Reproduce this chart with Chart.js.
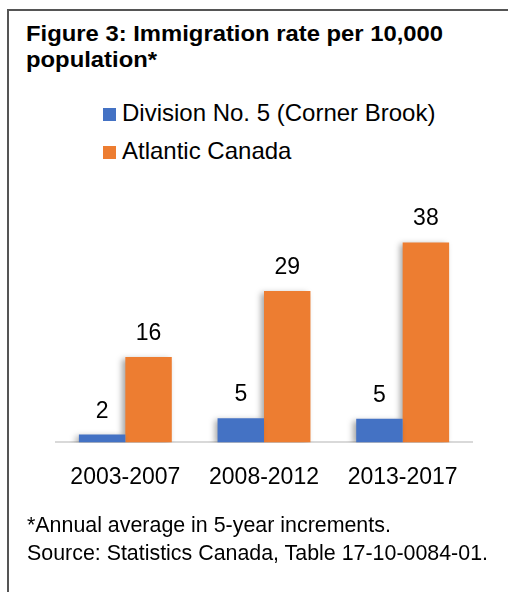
<!DOCTYPE html>
<html>
<head>
<meta charset="utf-8">
<script src="https://cdn.jsdelivr.net/npm/chart.js@4"></script>
<style>
  html, body { margin: 0; padding: 0; background: #fff; overflow: hidden; }
  body { width: 508px; height: 592px; position: relative; font-family: "Liberation Sans", Arial, sans-serif; color: #000; }
  #frame { position: absolute; left: 7px; top: 9px; width: 620px; height: 700px; border: 2px solid #555; }
  #title { position: absolute; left: 26px; top: 21px; font-size: 22px; font-weight: bold; line-height: 26px; transform: scaleX(1.083); transform-origin: left top; white-space: nowrap; }
  .legend-item { position: absolute; left: 103px; font-size: 24px; line-height: 30px; white-space: nowrap; }
  .legend-item span { display: inline-block; width: 13px; height: 13px; margin-right: 6px; }
  #note { position: absolute; left: 27px; top: 512px; font-size: 21.4px; line-height: 27.5px; white-space: nowrap; }
  #wrap { position: absolute; left: 0; top: 0; width: 508px; height: 592px; }
</style>
</head>
<body>
<div id="frame"></div>
<div id="title">Figure 3: Immigration rate per 10,000<br>population*</div>
<div id="legend"></div>
<div id="wrap"><canvas id="chart"></canvas></div>
<div id="note">*Annual average in 5-year increments.<br>Source: Statistics Canada, Table 17-10-0084-01.</div>
<script>
const categories = ["2003-2007", "2008-2012", "2013-2017"];
const cornerBrook = [1.5, 4.6, 4.5];
const atlantic = [16.3, 28.9, 38.2];

const barLabels = {
  id: "barLabels",
  afterDatasetsDraw(chart) {
    const ctx = chart.ctx;
    ctx.save();
    ctx.font = '23px "Liberation Sans", Arial';
    ctx.fillStyle = "#000";
    ctx.textAlign = "center";
    ctx.textBaseline = "alphabetic";
    chart.data.datasets.forEach((ds, i) => {
      chart.getDatasetMeta(i).data.forEach((bar, j) => {
        ctx.fillText(Math.round(ds.data[j]), bar.x, bar.y - 17);
      });
    });
    ctx.restore();
  }
};

const barShadow = {
  id: "barShadow",
  beforeDatasetDraw(chart) {
    const ctx = chart.ctx;
    ctx.save();
    ctx.shadowColor = "rgba(0,0,0,0.35)";
    ctx.shadowBlur = 6;
    ctx.shadowOffsetX = -3;
    ctx.shadowOffsetY = 2;
  },
  afterDatasetDraw(chart) {
    chart.ctx.restore();
  }
};

const chart = new Chart(document.getElementById("chart").getContext("2d"), {
  type: "bar",
  data: {
    labels: categories,
    datasets: [
      { label: "Division No. 5 (Corner Brook)", data: cornerBrook, backgroundColor: "#4472C4" },
      { label: "Atlantic Canada", data: atlantic, backgroundColor: "#ED7D31" }
    ]
  },
  options: {
    responsive: true,
    maintainAspectRatio: false,
    animation: false,
    layout: { padding: { left: 56, right: 36, top: 233, bottom: 80 } },
    categoryPercentage: 0.67,
    barPercentage: 1,
    plugins: { legend: { display: false }, tooltip: { enabled: false } },
    scales: {
      x: {
        grid: { display: false, drawTicks: false },
        border: { display: true, color: "#d9d9d9", width: 2 },
        ticks: { color: "#000", padding: 21, font: { family: '"Liberation Sans", Arial', size: 23 } }
      },
      y: { display: false, min: 0, max: 40 }
    }
  },
  plugins: [barShadow, barLabels]
});

// legend built from the datasets
const legend = document.getElementById("legend");
chart.data.datasets.forEach((ds, i) => {
  const item = document.createElement("div");
  item.className = "legend-item";
  item.style.top = (98 + i * 38) + "px";
  const box = document.createElement("span");
  box.style.background = ds.backgroundColor;
  item.appendChild(box);
  item.appendChild(document.createTextNode(ds.label));
  legend.appendChild(item);
});
</script>
</body>
</html>
